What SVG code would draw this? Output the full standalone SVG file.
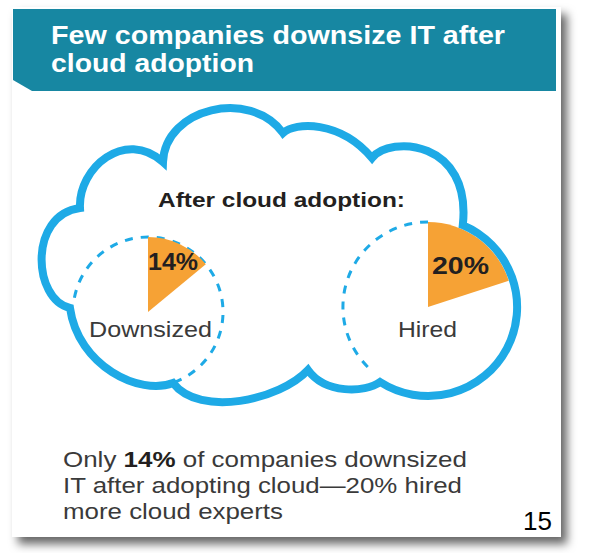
<svg xmlns="http://www.w3.org/2000/svg" width="591" height="553" viewBox="0 0 591 553">
  <defs>
    <filter id="shadow" x="-5%" y="-5%" width="115%" height="115%">
      <feDropShadow dx="6" dy="7" stdDeviation="5" flood-color="#000" flood-opacity="0.6"/>
    </filter>
    <style>
      .title { font-family: "Liberation Sans", Arial, sans-serif; font-weight: bold; font-size: 25px; fill: #ffffff; }
      .head { font-family: "Liberation Sans", Arial, sans-serif; font-weight: bold; font-size: 21px; fill: #231f20; }
      .pct { font-family: "Liberation Sans", Arial, sans-serif; font-weight: bold; font-size: 24px; fill: #231f20; }
      .lbl { font-family: "Liberation Sans", Arial, sans-serif; font-size: 22px; fill: #3a3a3a; }
      .cap { font-family: "Liberation Sans", Arial, sans-serif; font-size: 22px; fill: #3a3a3a; }
      .num { font-family: "Liberation Sans", Arial, sans-serif; font-size: 26px; fill: #000000; }
      .cloud { fill: none; stroke: #1eaae6; stroke-width: 8; stroke-linejoin: miter; stroke-miterlimit: 6; }
      .dash { fill: none; stroke: #1eaae6; stroke-width: 3; stroke-dasharray: 8 8; }
      .wedge { fill: #f6a235; }
    </style>
    <path id="cloudShape" d="M 80,208 C 78,168 125,128 163,162 C 165,108 250,88 283,133 C 295,122 340,120 372,158 C 390,135 472,140 462.8,225.1 A 89 89 0 1 1 380.1,382 C 365,393 325,394 308,370 C 280,400 200,418 173,383 C 140,396 78,366 70,308 C 33,300 28,215 80,208 Z"/>
  </defs>

  <g id="card">
    <rect x="12" y="7" width="549" height="530" fill="#ffffff" filter="url(#shadow)"/>
  </g>

  <g id="banner">
    <path d="M 13,9 H 556 V 91 H 32 L 13,80 Z" fill="#1787a2"/>
    <text class="title" x="51" y="44" textLength="454" lengthAdjust="spacingAndGlyphs">Few companies downsize IT after</text>
    <text class="title" x="51" y="72" textLength="203" lengthAdjust="spacingAndGlyphs">cloud adoption</text>
  </g>

  <g id="cloud-fill">
    <use href="#cloudShape" fill="#ffffff" stroke="none"/>
  </g>

  <g id="heading">
    <text class="head" x="158" y="207" textLength="247" lengthAdjust="spacingAndGlyphs">After cloud adoption:</text>
  </g>

  <g id="pie-downsized">
    <path class="dash" d="M 74.4,297.7 A 75 75 0 1 1 173.65,382.5"/>
    <path class="wedge" d="M 148,312 L 148,237 A 75 75 0 0 1 205.8,264.2 Z"/>
    <text class="pct" x="148" y="270" textLength="50" lengthAdjust="spacingAndGlyphs">14%</text>
    <text class="lbl" x="89" y="337" textLength="123" lengthAdjust="spacingAndGlyphs">Downsized</text>
  </g>

  <g id="pie-hired">
    <path class="dash" d="M 428,222 A 85 85 0 0 0 370,369.2"/>
    <path class="wedge" d="M 428,307 L 428,222 A 85 85 0 0 1 508.8,280.7 Z"/>
    <text class="pct" x="432" y="274" textLength="57" lengthAdjust="spacingAndGlyphs">20%</text>
    <text class="lbl" x="398" y="337" textLength="59" lengthAdjust="spacingAndGlyphs">Hired</text>
  </g>

  <g id="cloud-outline">
    <use href="#cloudShape" class="cloud"/>
  </g>

  <g id="caption">
    <text class="cap" x="63" y="467" textLength="404" lengthAdjust="spacingAndGlyphs">Only <tspan font-weight="bold" fill="#231f20">14%</tspan> of companies downsized</text>
    <text class="cap" x="63" y="493" textLength="399" lengthAdjust="spacingAndGlyphs">IT after adopting cloud—20% hired</text>
    <text class="cap" x="63" y="519" textLength="220" lengthAdjust="spacingAndGlyphs">more cloud experts</text>
  </g>

  <g id="page-number">
    <text class="num" x="523" y="530">15</text>
  </g>
</svg>
